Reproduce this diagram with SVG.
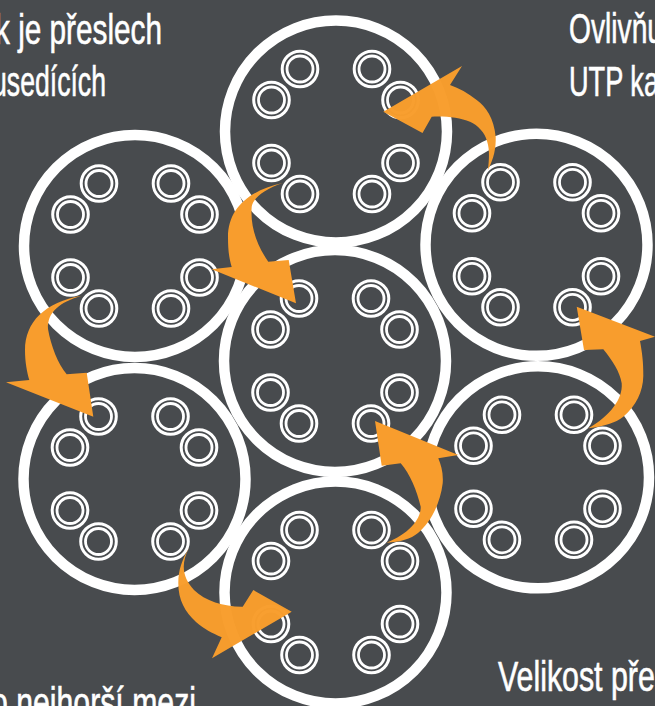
<svg xmlns="http://www.w3.org/2000/svg" xmlns:xlink="http://www.w3.org/1999/xlink" width="655" height="706" viewBox="0 0 655 706">
<style>
.cable{fill:#484b4e;stroke:#fff;stroke-width:10.5}
.ro{fill:none;stroke:#fff;stroke-width:3}
.ri{fill:none;stroke:#fff;stroke-width:2.8}
.arrow{fill:#f89d2d;stroke:none}
.label{font-family:"Liberation Sans Narrow","Liberation Sans",Arial,sans-serif;font-size:42px;fill:#fff;stroke:#fff;stroke-width:0.6}
</style>
<defs>
<g id="pair"><circle class="ro" r="17.800"/><circle class="ri" r="13"/></g>
<g id="rings">
<use xlink:href="#pair" href="#pair" x="-36" y="-62.500"/>
<use xlink:href="#pair" href="#pair" x="-64.500" y="-31.500"/>
<use xlink:href="#pair" href="#pair" x="-64.500" y="31.500"/>
<use xlink:href="#pair" href="#pair" x="-36" y="62.500"/>
<use xlink:href="#pair" href="#pair" x="36" y="-62.500"/>
<use xlink:href="#pair" href="#pair" x="64.500" y="-31.500"/>
<use xlink:href="#pair" href="#pair" x="64.500" y="31.500"/>
<use xlink:href="#pair" href="#pair" x="36" y="62.500"/>
</g>
</defs>
<rect width="655" height="706" fill="#484b4e"/>
<g id="cable-top-left" transform="translate(135 246)"><circle class="cable" r="111"/><use xlink:href="#rings" href="#rings"/></g>
<g id="cable-bottom-left" transform="translate(134.500 479)"><circle class="cable" r="111"/><use xlink:href="#rings" href="#rings"/></g>
<g id="cable-top" transform="translate(336 131.500)"><circle class="cable" r="111"/><use xlink:href="#rings" href="#rings"/></g>
<g id="cable-top-right" transform="translate(536.500 244.800)"><circle class="cable" r="111"/><use xlink:href="#rings" href="#rings"/></g>
<g id="cable-bottom-right" transform="translate(538 477.300)"><circle class="cable" r="111"/><use xlink:href="#rings" href="#rings"/></g>
<g id="cable-centre" transform="translate(335 361)"><circle class="cable" r="111"/><use xlink:href="#rings" href="#rings"/></g>
<g id="cable-bottom" transform="translate(335.500 592.500)"><circle class="cable" r="111"/><use xlink:href="#rings" href="#rings"/></g>
<g id="connectors">
<path class="arrow" d="M282.700 183C250 190 228 208 228 237C228 250 229 258 231.700 267L211.700 269.300L296 303.300L288.700 260L268.300 261.700C258 247 250 228 251.700 206.700C253 198 265 189 282.700 183Z"/>
<path class="arrow" d="M81.700 295.700C45 302 25 322 25 350C25 362 27 372 29.300 380L6 382.300L93.300 416.700L86.700 372.700L66.700 374.300C58 364 51 346 48 329C47 312 60 302 81.700 295.700Z"/>
<path class="arrow" fill-opacity="0.985" d="M189.300 547.300C182 560 178.300 570 178.300 583.300C178.300 600 185 612 196 622C204 629 212 633 221.700 637.300L212 658.300L291.700 611.700L253.300 590L242.700 606.700C225 607 205 601 194 590C183 578 180 565 189.300 547.300Z"/>
<path class="arrow" d="M386.700 542.700C400 542 411 539 418 533C430 523 440 505 442.700 483.300C443.500 473 441 465 438.300 458.300L458.300 455L375 421L381.700 465.700L400.700 463.300C410 474 417 491 420.700 506.700C421 520 408 534 386.700 542.700Z"/>
<path class="arrow" d="M588.300 428.300C605 426 615 423 623.300 416.700C636 406 643 392 643.300 376C643.500 362 642 352 640 341L655 336.700L576.700 306.700L584 350L603.300 349.300C612 360 620 372 621.700 383.300C623 399 610 416 588.300 428.300Z"/>
<path class="arrow" fill-opacity="0.985" d="M488 170C494 158 496 148 495.700 137C494 118 486 107 476.700 100C468 93 459 88 450 85L462 66L383.300 111.700L422.500 133L431.700 116.700C447 116 460 118 470 121.700C478 125 485 133 487 141C490 150 489 160 488 170Z"/>
</g>
<g id="labels">
<text class="label" x="-5" y="44" textLength="167" lengthAdjust="spacingAndGlyphs">k je přeslech</text>
<text class="label" x="-8" y="96" textLength="114" lengthAdjust="spacingAndGlyphs">usedících</text>
<text class="label" x="569" y="43" textLength="94" lengthAdjust="spacingAndGlyphs">Ovlivňu</text>
<text class="label" x="569" y="96" textLength="90" lengthAdjust="spacingAndGlyphs">UTP ka</text>
<text class="label" x="-9" y="717" textLength="205" lengthAdjust="spacingAndGlyphs">o nejhorší mezi</text>
<text class="label" x="498" y="691" textLength="172" lengthAdjust="spacingAndGlyphs">Velikost přes</text>
</g>
</svg>
